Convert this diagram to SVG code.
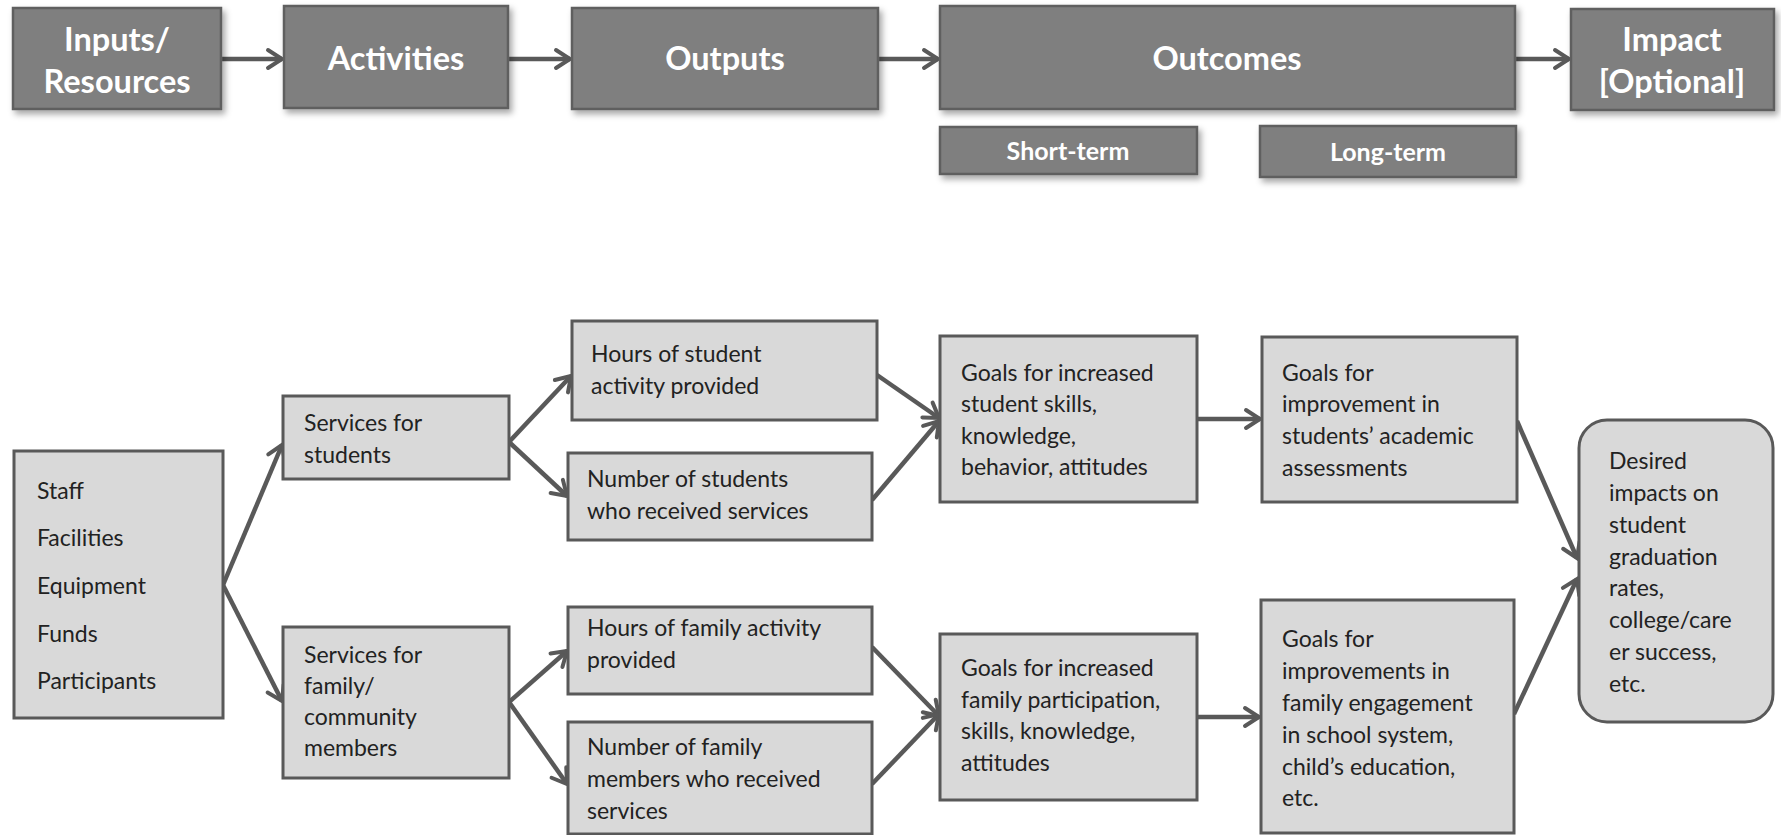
<svg xmlns="http://www.w3.org/2000/svg" width="1781" height="835" viewBox="0 0 1781 835">
<defs>
<filter id="sh" x="-10%" y="-10%" width="130%" height="140%">
<feDropShadow dx="3" dy="4" stdDeviation="3" flood-color="#000" flood-opacity="0.35"/>
</filter>
<marker id="ah" markerUnits="userSpaceOnUse" markerWidth="24" markerHeight="24" refX="18" refY="12" orient="auto">
<path d="M4,3 L18,12 L4,21" fill="none" stroke="#595959" stroke-width="4" stroke-linecap="round" stroke-linejoin="miter"/>
</marker>
</defs>
<style>
.hd rect{fill:#7f7f7f;stroke:#5f5f5f;stroke-width:2.5;filter:url(#sh)}
.hd text{fill:#ffffff;font-family:Lato,"Open Sans",sans-serif;font-weight:bold;font-size:32.5px;text-anchor:middle}
.hd text.sm{font-size:25px}
.bx rect{fill:#d9d9d9;stroke:#595959;stroke-width:3}
.bx text{fill:#222222;font-family:Lato,"Open Sans",sans-serif;font-size:23px}
.cn line{stroke:#595959;stroke-width:4.5;marker-end:url(#ah)}
</style>
<rect width="1781" height="835" fill="#ffffff"/>

<g class="cn" id="connectors">
<line x1="221" y1="59" x2="282" y2="59"/>
<line x1="508" y1="59" x2="570" y2="59"/>
<line x1="878" y1="59" x2="938" y2="59"/>
<line x1="1515" y1="59" x2="1569" y2="59"/>
<line x1="223" y1="585" x2="282" y2="445"/>
<line x1="223" y1="585" x2="282" y2="701"/>
<line x1="509" y1="442" x2="571" y2="376"/>
<line x1="509" y1="442" x2="567" y2="496"/>
<line x1="509" y1="702" x2="567" y2="651"/>
<line x1="509" y1="702" x2="567" y2="784"/>
<line x1="877" y1="375" x2="939" y2="418"/>
<line x1="872" y1="500" x2="939" y2="421"/>
<line x1="872" y1="647" x2="939" y2="716"/>
<line x1="872" y1="784" x2="939" y2="714"/>
<line x1="1197" y1="419" x2="1260" y2="419"/>
<line x1="1197" y1="717" x2="1259" y2="717"/>
<line x1="1517" y1="421" x2="1577" y2="558"/>
<line x1="1514" y1="714" x2="1577" y2="579"/>
</g>

<g class="hd" id="n-inputs"><rect x="13" y="8" width="208" height="101"/><text x="117" y="51">Inputs/</text><text x="117" y="93">Resources</text></g>
<g class="hd" id="n-activities"><rect x="284" y="6" width="224" height="102"/><text x="396" y="70">Activities</text></g>
<g class="hd" id="n-outputs"><rect x="572" y="8" width="306" height="101"/><text x="725" y="70">Outputs</text></g>
<g class="hd" id="n-outcomes"><rect x="940" y="6" width="575" height="103"/><text x="1227" y="70">Outcomes</text></g>
<g class="hd" id="n-impact"><rect x="1571" y="9" width="203" height="101"/><text x="1672" y="51">Impact</text><text x="1672" y="93">[Optional]</text></g>
<g class="hd" id="n-short"><rect x="940" y="127" width="257" height="47"/><text class="sm" x="1068" y="160">Short-term</text></g>
<g class="hd" id="n-long"><rect x="1260" y="126" width="256" height="51"/><text class="sm" x="1388" y="161">Long-term</text></g>

<g class="bx" id="n-staff"><rect x="14" y="451" width="209" height="267"/>
<text x="37" y="499">Staff</text><text x="37" y="546">Facilities</text><text x="37" y="594">Equipment</text><text x="37" y="642">Funds</text><text x="37" y="689">Participants</text></g>
<g class="bx" id="n-svc-students"><rect x="283" y="396" width="226" height="83"/>
<text x="304" y="431">Services for</text><text x="304" y="463">students</text></g>
<g class="bx" id="n-svc-family"><rect x="283" y="627" width="226" height="151"/>
<text x="304" y="663">Services for</text><text x="304" y="694">family/</text><text x="304" y="725">community</text><text x="304" y="756">members</text></g>
<g class="bx" id="n-hours-student"><rect x="572" y="321" width="305" height="99"/>
<text x="591" y="362">Hours of student</text><text x="591" y="394">activity provided</text></g>
<g class="bx" id="n-num-students"><rect x="568" y="453" width="304" height="87"/>
<text x="587" y="487">Number  of students</text><text x="587" y="519">who received  services</text></g>
<g class="bx" id="n-hours-family"><rect x="568" y="607" width="304" height="87"/>
<text x="587" y="636">Hours of family activity</text><text x="587" y="668">provided</text></g>
<g class="bx" id="n-num-family"><rect x="568" y="722" width="304" height="112"/>
<text x="587" y="755">Number  of family</text><text x="587" y="787">members  who  received</text><text x="587" y="819">services</text></g>
<g class="bx" id="n-goals-student"><rect x="940" y="336" width="257" height="166"/>
<text x="961" y="381">Goals for increased</text><text x="961" y="412">student skills,</text><text x="961" y="444">knowledge,</text><text x="961" y="475">behavior, attitudes</text></g>
<g class="bx" id="n-goals-family"><rect x="940" y="634" width="257" height="166"/>
<text x="961" y="676">Goals for increased</text><text x="961" y="708">family participation,</text><text x="961" y="739">skills, knowledge,</text><text x="961" y="771">attitudes</text></g>
<g class="bx" id="n-improve-students"><rect x="1262" y="337" width="255" height="165"/>
<text x="1282" y="381">Goals for</text><text x="1282" y="412">improvement  in</text><text x="1282" y="444">students’ academic</text><text x="1282" y="476">assessments</text></g>
<g class="bx" id="n-improve-family"><rect x="1261" y="600" width="253" height="233"/>
<text x="1282" y="647">Goals for</text><text x="1282" y="679">improvements  in</text><text x="1282" y="711">family engagement</text><text x="1282" y="743">in school system,</text><text x="1282" y="775">child’s education,</text><text x="1282" y="806">etc.</text></g>
<g class="bx" id="n-desired"><rect x="1579" y="420" width="194" height="302" rx="28" ry="28"/>
<text x="1609" y="469">Desired</text><text x="1609" y="501">impacts  on</text><text x="1609" y="533">student</text><text x="1609" y="565">graduation</text><text x="1609" y="596">rates,</text><text x="1609" y="628">college/care</text><text x="1609" y="660">er success,</text><text x="1609" y="692">etc.</text></g>
</svg>
